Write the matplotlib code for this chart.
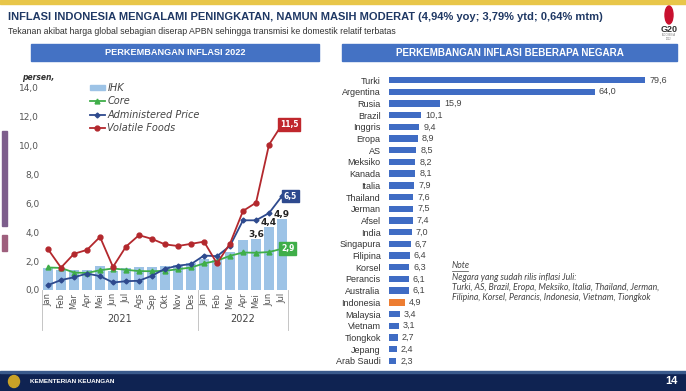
import matplotlib
matplotlib.use("Agg")
import matplotlib.pyplot as plt
import matplotlib.patches as mpatches
from matplotlib.lines import Line2D

# left chart: inflasi Indonesia 2021-2022 (persen, yoy)
months = ["Jan", "Feb", "Mar", "Apr", "Mei", "Jun", "Jul", "Ags", "Sep", "Okt", "Nov", "Des",
          "Jan", "Feb", "Mar", "Apr", "Mei", "Jun", "Jul"]
ihk = [1.55, 1.38, 1.37, 1.42, 1.68, 1.33, 1.52, 1.59, 1.60, 1.66, 1.75, 1.87,
       2.18, 2.06, 2.64, 3.47, 3.55, 4.35, 4.94]
core = [1.56, 1.53, 1.21, 1.18, 1.37, 1.49, 1.40, 1.31, 1.30, 1.33, 1.44, 1.56,
        1.84, 2.03, 2.37, 2.60, 2.58, 2.63, 2.86]
admin = [0.34, 0.69, 0.88, 1.14, 0.96, 0.52, 0.61, 0.64, 0.99, 1.47, 1.69, 1.79,
         2.39, 2.34, 3.06, 4.83, 4.83, 5.33, 6.51]
volatile = [2.83, 1.55, 2.51, 2.78, 3.68, 1.60, 3.01, 3.80, 3.54, 3.16, 3.05, 3.20,
            3.35, 1.84, 3.22, 5.48, 6.05, 10.07, 11.47]

# right chart: inflasi beberapa negara
countries = ["Turki", "Argentina", "Rusia", "Brazil", "Inggris", "Eropa", "AS", "Meksiko",
             "Kanada", "Italia", "Thailand", "Jerman", "Afsel", "India", "Singapura", "Filipina",
             "Korsel", "Perancis", "Australia", "Indonesia", "Malaysia", "Vietnam", "Tiongkok",
             "Jepang", "Arab Saudi"]
country_infl = [79.6, 64.0, 15.9, 10.1, 9.4, 8.9, 8.5, 8.2, 8.1, 7.9, 7.6, 7.5, 7.4, 7.0,
                6.7, 6.4, 6.3, 6.1, 6.1, 4.9, 3.4, 3.1, 2.7, 2.4, 2.3]

W, H = 686, 391
BLUE_BOX = "#4472c4"
NAVY = "#1f3864"
SANS = ["Liberation Sans", "DejaVu Sans"]


def fx(px):
    return px / W


def fy(py):
    return 1 - py / H


def comma(v):
    return f"{v + 1e-9:.1f}".replace(".", ",")


def rect(fig, x0, y0, x1, y1, color):
    fig.patches.append(mpatches.Rectangle((fx(x0), fy(y1)), fx(x1) - fx(x0), (y1 - y0) / H,
                                          transform=fig.transFigure, color=color, zorder=0))


def fit(fig, t, width_px):
    # shrink / grow a text so it spans the same width as in the slide
    w = t.get_window_extent(fig.canvas.get_renderer()).width
    t.set_fontsize(t.get_fontsize() * width_px / w)


fig = plt.figure(figsize=(6.86, 3.91), dpi=100)

# header
rect(fig, 0, 0, W, 4, "#e8c64a")
t = fig.text(fx(8), fy(17), "INFLASI INDONESIA MENGALAMI PENINGKATAN, NAMUN MASIH MODERAT (4,94% yoy; 3,79% ytd; 0,64% mtm)",
             family=SANS, fontsize=10, fontweight="bold", color=NAVY, va="center")
fit(fig, t, 592)
t = fig.text(fx(8), fy(31), "Tekanan akibat harga global sebagian diserap APBN sehingga transmisi ke domestik relatif terbatas",
             family=SANS, fontsize=7, color="#333333", va="center")
fit(fig, t, 388)

# G20 logo
fig.patches.append(mpatches.Ellipse((fx(669), fy(15)), 8 / W, 18 / H, transform=fig.transFigure,
                                    color="#c8102e"))
fig.text(fx(669), fy(30), "G20", family=SANS, fontsize=6.5, fontweight="bold", color="#333333",
         ha="center", va="center")
fig.text(fx(669), fy(37), "INDONESIA\n2022", family=SANS, fontsize=1.8, color="#777777",
         ha="center", va="center", linespacing=1.0)

# panel headers
rect(fig, 31, 44, 319, 61, BLUE_BOX)
rect(fig, 342, 44, 677, 61, BLUE_BOX)
t = fig.text(fx(175), fy(52.5), "PERKEMBANGAN INFLASI 2022", family=SANS, fontsize=8,
             fontweight="bold", color="white", ha="center", va="center")
fit(fig, t, 140)
t = fig.text(fx(510), fy(52.5), "PERKEMBANGAN INFLASI BEBERAPA NEGARA", family=SANS, fontsize=8,
             fontweight="bold", color="white", ha="center", va="center")
fit(fig, t, 228)

# decorative side marks
rect(fig, 2, 131, 7, 226, "#7d5e8c")
rect(fig, 2, 235, 7, 251, "#9e5f7d")

# ---- left chart ----
ax = fig.add_axes([fx(42), fy(290), (288 - 42) / W, (290 - 88) / H])
x = list(range(len(months)))
ax.bar(x, ihk, width=0.77, color="#9dc3e6", zorder=1)
ax.plot(x, core, color="#3fae49", marker="^", ms=3.5, lw=1.3, zorder=3)
ax.plot(x, admin, color="#2e4a8e", marker="D", ms=2.5, lw=1.3, zorder=4)
ax.plot(x, volatile, color="#b3282d", marker="o", ms=3.5, lw=1.3, zorder=5)

ax.set_xlim(-0.46, 18.46)
ax.set_ylim(0, 14)
ax.set_yticks(range(0, 15, 2))
ax.set_yticklabels([comma(v) for v in range(0, 15, 2)], fontsize=6.5, color="#555555")
ax.set_xticks(x)
ax.set_xticklabels(months, rotation=90, fontsize=6, color="#555555")
ax.tick_params(length=0, pad=2)
for s in ax.spines.values():
    s.set_visible(False)

tr = ax.get_xaxis_transform()
for xs in [-0.46, 11.5, 18.46]:
    ax.plot([xs, xs], [0, -0.2], transform=tr, color="#bbbbbb", lw=0.6, clip_on=False)
ax.text(5.5, -0.145, "2021", transform=tr, fontsize=7, color="#444444", ha="center", va="center")
ax.text(15.0, -0.145, "2022", transform=tr, fontsize=7, color="#444444", ha="center", va="center")

fig.text(fx(22), fy(77), "persen,", fontsize=5.5, style="italic", fontweight="bold", color="#333333",
         va="center")

handles = [mpatches.Patch(color="#9dc3e6"),
           Line2D([], [], color="#3fae49", marker="^", ms=3.5, lw=1.3),
           Line2D([], [], color="#2e4a8e", marker="D", ms=2.5, lw=1.3),
           Line2D([], [], color="#b3282d", marker="o", ms=3.5, lw=1.3)]
leg = ax.legend(handles, ["IHK", "Core", "Administered Price", "Volatile Foods"],
                loc="upper left", bbox_to_anchor=(fx(90), fy(83)), bbox_transform=fig.transFigure,
                frameon=False, fontsize=7, handlelength=1.5, handleheight=0.5, labelspacing=0.35,
                handletextpad=0.3, borderaxespad=0, borderpad=0)
for t in leg.get_texts():
    t.set_style("italic")
    t.set_color("#444444")

last = len(months) - 1
for val, col, dx in [(volatile[last], "#c0272d", 5), (admin[last], "#2e4a8e", 6), (core[last], "#3fae49", 4)]:
    ax.annotate(comma(val), xy=(last, val), xytext=(dx, 0), textcoords="offset points",
                ha="center", va="center", color="white", fontsize=5.5, fontweight="bold",
                bbox=dict(boxstyle="square,pad=0.25", fc=col, ec=col), zorder=6)
for i in [16, 17, 18]:
    ax.annotate(comma(ihk[i]), xy=(i, ihk[i]), xytext=(0, 0), textcoords="offset points",
                ha="center", va="bottom", fontsize=6.5, fontweight="bold", color="#222222", zorder=6)

# ---- right chart ----
ax2 = fig.add_axes([fx(389), fy(366.7), (680 - 389) / W, 292.5 / H])
colors = ["#ed7d31" if c == "Indonesia" else "#3f6cc4" for c in countries]
y = list(range(len(countries)))
ax2.barh(y, country_infl, height=0.55, color=colors)
ax2.set_ylim(len(countries) - 0.5, -0.5)
ax2.set_xlim(0, 79.6 * 291 / 256)
ax2.set_yticks(y)
ax2.set_yticklabels(countries, fontsize=6.5, color="#333333", family=SANS)
ax2.set_xticks([])
ax2.tick_params(length=0, pad=6)
for s in ax2.spines.values():
    s.set_visible(False)
for yi, v in zip(y, country_infl):
    ax2.annotate(comma(v), xy=(v, yi), xytext=(3, 0), textcoords="offset points",
                 ha="left", va="center", fontsize=6.5, color="#444444", family=SANS)

# note
note_font = ["Lato", "DejaVu Sans"]
fig.text(fx(452), fy(266), "Note", family=note_font, style="italic", fontsize=6.3, color="#444444",
         va="center")
fig.lines.append(Line2D([fx(452), fx(468)], [fy(270.5), fy(270.5)], transform=fig.transFigure,
                        color="#444444", lw=0.5))
note_lines = ["Negara yang sudah rilis inflasi Juli:",
              "Turki, AS, Brazil, Eropa, Meksiko, Italia, Thailand, Jerman,",
              "Filipina, Korsel, Perancis, Indonesia, Vietnam, Tiongkok"]
for k, line in enumerate(note_lines):
    fig.text(fx(452), fy(277 + 10 * k), line, family=note_font, style="italic", fontsize=6.3,
             color="#444444", va="center")

# footer
rect(fig, 0, 372, W, H, "#0f2352")
rect(fig, 0, 371, W, 372.5, "#3a5a8c")
fig.patches.append(mpatches.Ellipse((fx(14), fy(381.5)), 11 / W, 12 / H, transform=fig.transFigure,
                                    color="#c9a227"))
t = fig.text(fx(30), fy(381.5), "KEMENTERIAN KEUANGAN", family=SANS, fontsize=4.8, fontweight="bold",
             color="white", va="center")
fit(fig, t, 86)
fig.text(fx(678), fy(381.5), "14", family=SANS, fontsize=8, fontweight="bold", color="white",
         ha="right", va="center")

fig.savefig("out.png", dpi=100)
